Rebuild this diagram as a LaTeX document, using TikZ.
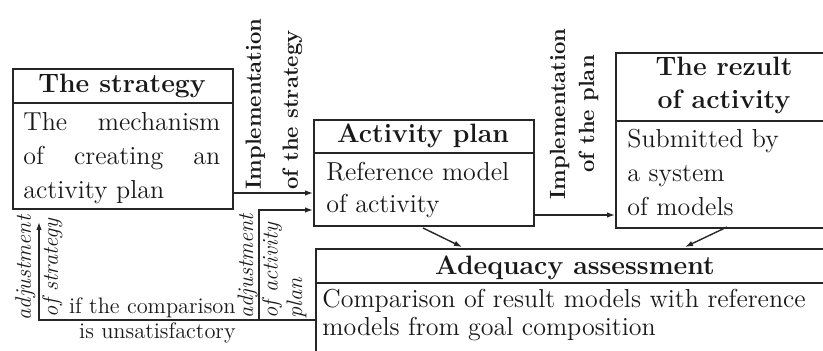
\documentclass[tikz,border=0pt]{standalone}
\usepackage{fontspec}
\usetikzlibrary{arrows.meta}
\begin{document}
\begin{tikzpicture}[x=0.5pt,y=-0.5pt,
  box/.style={draw=black!85, line width=0.8pt, rectangle, inner sep=0pt, anchor=north west},
  sep/.style={draw=black!85, line width=0.8pt},
  arr/.style={draw=black!85, line width=0.7pt, -{Latex[length=4pt,width=2.8pt]}},
  plain/.style={inner sep=0pt, text=black!90},
  hd/.style={plain, font=\fontsize{13.3}{16.5}\selectfont\bfseries},
  bd/.style={plain, font=\fontsize{13}{17}\selectfont, align=left, anchor=north west},
  lab/.style={plain, rotate=90},
]
\clip (0,0) rectangle (823,351);

% boxes
\node[box, minimum width=110pt, minimum height=70pt] (strat) at (12,68) {};
\node[box, minimum width=110pt, minimum height=53pt] (act) at (313,119) {};
\node[box, minimum width=109pt, minimum height=87.5pt] (res) at (615,52) {};
\node[box, minimum width=260pt, minimum height=61pt] (adeq) at (315,248) {};

% header separators
\coordinate (h1) at (0,103);
\coordinate (h2) at (0,153);
\coordinate (h3) at (0,121);
\coordinate (h4) at (0,283);
\draw[sep] (strat.west |- h1) -- (strat.east |- h1);
\draw[sep] (act.west |- h2) -- (act.east |- h2);
\draw[sep] (res.west |- h3) -- (res.east |- h3);
\draw[sep] (adeq.west |- h4) -- (adeq.east |- h4);

% box texts
\node[hd, anchor=base] (strath) at (122,93) {The strategy};
\node[bd, text width=98.5pt] (stratb) at (23,112) {The\hfill mechanism\\ of\hfill creating\hfill an\\ activity plan};
\node[hd, anchor=base] (acth) at (423,143) {Activity plan};
\node[bd, font=\fontsize{13}{16}\selectfont] (actb) at (326,162) {Reference model\\of activity};
\node[hd, anchor=north, align=center] (resh) at (724,57) {The rezult\\of activity};
\node[bd] (resb) at (627,129) {Submitted by\\a system\\of models};
\node[hd, anchor=base] (adeqh) at (575,275) {Adequacy assessment};
\node[bd, font=\fontsize{13}{14}\selectfont] (adeqb) at (322,289) {Comparison of result models with reference\\models from goal composition};

% labels
\node[lab, font=\fontsize{11}{18.5}\selectfont\bfseries, align=left, anchor=west] (impl1) at (274,190) {Implementation\\of the strategy};
\node[lab, font=\fontsize{11}{14.5}\selectfont\bfseries, align=center, anchor=center] (impl2) at (574,114) {Implementation\\of the plan};
\node[lab, font=\fontsize{11.2}{13.5}\selectfont\itshape, align=center, anchor=center] (adj1) at (39,268) {adjustment\\of strategy};
\node[lab, font=\fontsize{11.2}{12.3}\selectfont\itshape, align=left, anchor=west] (adj2) at (272,319) {adjustment\\of activity\\plan};
\node[plain, font=\fontsize{11.2}{12.5}\selectfont, align=right, anchor=east] (cond) at (236,320) {if the comparison\\is unsatisfactory};

% connectors
\coordinate (y193) at (0,193);
\coordinate (y210) at (0,210);
\coordinate (y215) at (0,215);
\coordinate (y320) at (0,320);
\coordinate (fbtip) at (39,222);
\coordinate (br) at (259,320);
\draw[arr] (strat.east |- y193) -- (act.west |- y193);
\draw[arr] (adeq.west |- y320) -| (fbtip);
\draw[arr] (br) |- (act.west |- y210);
\draw[arr] (act.east |- y215) -- (res.west |- y215);
\coordinate (d1s) at (423,228);
\coordinate (d1e) at (462,247);
\coordinate (d2s) at (727,227);
\coordinate (d2e) at (685,247);
\draw[arr] (d1s) -- (d1e);
\draw[arr] (d2s) -- (d2e);
\end{tikzpicture}
\end{document}
